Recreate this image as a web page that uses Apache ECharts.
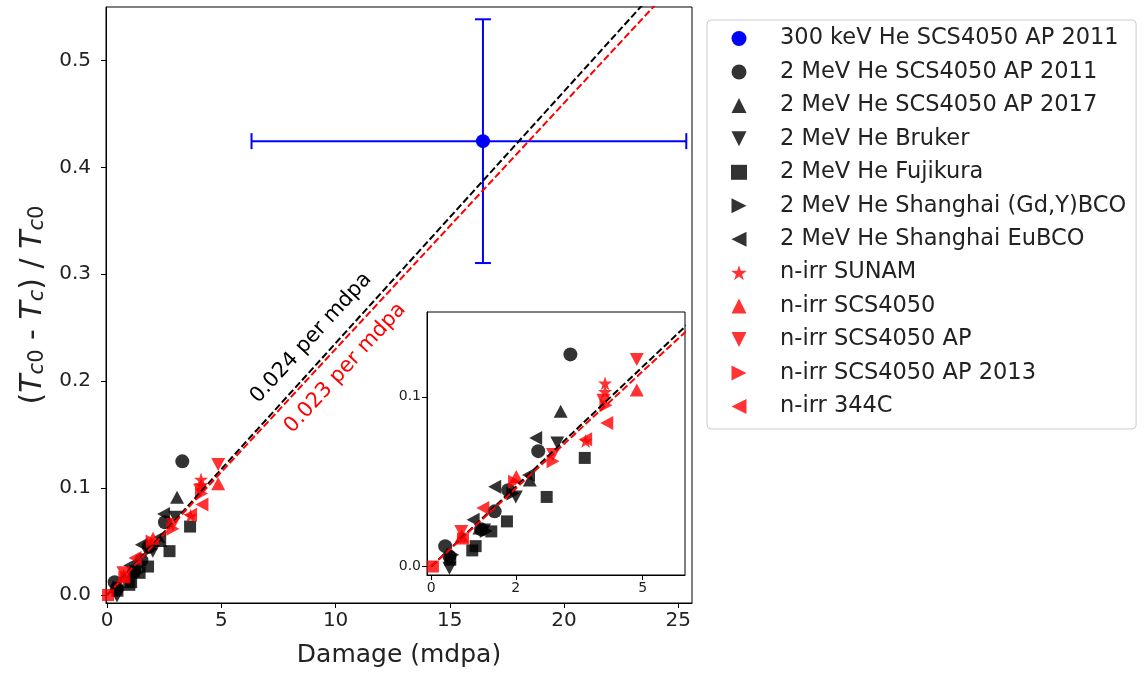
<!DOCTYPE html>
<html><head><meta charset="utf-8">
<script src="https://cdn.jsdelivr.net/npm/echarts@6/dist/echarts.min.js"></script>
<style>html,body{margin:0;padding:0;background:#fff}#c{width:1146px;height:674px}</style>
</head><body><div id="c"></div>
<script>
// ---------- data ----------
const he300keV      = [[16.45, 0.4245]];
const he300keVErrX  = [[6.32, 25.35]];   // [low, high]
const he300keVErrY  = [[0.3105, 0.5385]]; // [low, high]
const he2011   = [[0.33,0.012],[0.43,0.006],[1.18,0.022],[1.5,0.0325],[1.82,0.045],[2.53,0.068],[3.29,0.125]];
const he2017   = [[1.14,0.0227],[2.33,0.051],[3.06,0.0915]];
const heBruker = [[0.43,-0.001],[1.25,0.0215],[2.0,0.041],[2.98,0.0728]];
const heFujikura = [[0.45,0.004],[0.97,0.0095],[1.05,0.012],[1.42,0.0207],[1.79,0.0266],[2.73,0.041],[3.63,0.064]];
const heGdYBCO = [[0.51,0.0069],[1.3,0.021],[1.93,0.043]];
const heEuBCO  = [[0.99,0.0276],[1.5,0.047],[2.3,0.054],[2.47,0.0758]];
const nSUNAM   = [[3.65,0.074],[4.11,0.103],[4.11,0.108]];
const nSCS4050 = [[0.72,0.018],[2.01,0.053],[4.86,0.104]];
const nAP      = [[0.71,0.0207],[2.88,0.066],[4.07,0.098],[4.86,0.122]];
const nAP2013  = [[1.97,0.05],[2.88,0.062],[4.13,0.095]];
const n344C    = [[1.22,0.0345],[3.65,0.075],[4.15,0.0846]];
const nRef     = [[0.04,0.0],[0.75,0.0165]];
const fitHe    = [[0,0],[25.6,0.603]];   // 0.024 per mdpa
const fitN     = [[0,0],[25.6,0.589]];   // 0.023 per mdpa
const labelHe  = [8.93, 0.2404];
const labelN   = [10.42, 0.2123];
const xTicksMain  = [0,5,10,15,20,25];
const yTicksMain  = [0,0.1,0.2,0.3,0.4,0.5];
const xTicksInset = [0,2,5];
const yTicksInset = [0,0.1];
const names = ['300 keV He SCS4050 AP 2011','2 MeV He SCS4050 AP 2011','2 MeV He SCS4050 AP 2017','2 MeV He Bruker','2 MeV He Fujikura','2 MeV He Shanghai (Gd,Y)BCO','2 MeV He Shanghai EuBCO','n-irr SUNAM','n-irr SCS4050','n-irr SCS4050 AP','n-irr SCS4050 AP 2013','n-irr 344C'];

// ---------- styling ----------
const FONT = 'DejaVu Sans';
const STAR = 'path://M50,0 L61.2,34.5 L97.6,34.5 L68.2,55.9 L79.4,90.5 L50,69.1 L20.6,90.5 L31.8,55.9 L2.4,34.5 L38.8,34.5 Z';
const shapes = {
  circle:{symbol:'circle',size:14},
  up:{symbol:'path://M50,0 L100,100 L0,100 Z',size:[14,13]},
  down:{symbol:'path://M0,0 L100,0 L50,100 Z',size:[14,13]},
  square:{symbol:'rect',size:12},
  right:{symbol:'path://M0,0 L100,50 L0,100 Z',size:[13,14]},
  left:{symbol:'path://M100,0 L0,50 L100,100 Z',size:[13,14]},
  star:{symbol:STAR,size:14}
};
const groups = [
  [names[1], he2011,'circle','#000'],
  [names[2], he2017,'up','#000'],
  [names[3], heBruker,'down','#000'],
  [names[4], heFujikura,'square','#000'],
  [names[5], heGdYBCO,'right','#000'],
  [names[6], heEuBCO,'left','#000'],
  [names[7], nSUNAM,'star','#ff0000'],
  [names[8], nSCS4050,'up','#ff0000'],
  [names[9], nAP,'down','#ff0000'],
  [names[10], nAP2013,'right','#ff0000'],
  [names[11], n344C,'left','#ff0000'],
  ['n-irr ref', nRef,'square','#ff0000']
];

const series = [];
[0,1].forEach(g => {
  const zb = g === 0 ? 2 : 11;
  groups.forEach(([name,data,shape,color]) => {
    const s = shapes[shape];
    series.push({
      type:'scatter', name, data, xAxisIndex:g, yAxisIndex:g,
      symbol:s.symbol, symbolSize:s.size,
      itemStyle:{color, opacity:0.8}, z:zb, silent:true
    });
  });
  series.push({type:'line', name:'fitHe', data:fitHe, xAxisIndex:g, yAxisIndex:g, showSymbol:false, symbol:'none',
    lineStyle:{color:'#000', width:2, type:[7,3]}, z:zb+2, clip:true, silent:true});
  series.push({type:'line', name:'fitN', data:fitN, xAxisIndex:g, yAxisIndex:g, showSymbol:false, symbol:'none',
    lineStyle:{color:'#ff0000', width:2, type:[7,3]}, z:zb+2, clip:true, silent:true});
});
series.push({
  type:'scatter', name:names[0], data:he300keV, xAxisIndex:0, yAxisIndex:0,
  symbol:'circle', symbolSize:14, itemStyle:{color:'#0000ff', opacity:1}, z:5, silent:true
});
series.push({
  type:'custom', name:'err', xAxisIndex:0, yAxisIndex:0, z:3, silent:true,
  data: he300keV.map((p,i)=>[p[0],p[1],he300keVErrX[i][0],he300keVErrX[i][1],he300keVErrY[i][0],he300keVErrY[i][1]]),
  renderItem:(params, api) => {
    const l = api.coord([api.value(2), api.value(1)]);
    const r = api.coord([api.value(3), api.value(1)]);
    const b = api.coord([api.value(0), api.value(4)]);
    const t = api.coord([api.value(0), api.value(5)]);
    const c = 8, st = {stroke:'#0000ff', lineWidth:2};
    return {type:'group', children:[
      {type:'line', shape:{x1:l[0],y1:l[1],x2:r[0],y2:r[1]}, style:st},
      {type:'line', shape:{x1:b[0],y1:b[1],x2:t[0],y2:t[1]}, style:st},
      {type:'line', shape:{x1:l[0],y1:l[1]-c,x2:l[0],y2:l[1]+c}, style:st},
      {type:'line', shape:{x1:r[0],y1:r[1]-c,x2:r[0],y2:r[1]+c}, style:st},
      {type:'line', shape:{x1:b[0]-c,y1:b[1],x2:b[0]+c,y2:b[1]}, style:st},
      {type:'line', shape:{x1:t[0]-c,y1:t[1],x2:t[0]+c,y2:t[1]}, style:st}
    ]};
  }
});

const tickStyle = {show:true, length:5, inside:false, lineStyle:{color:'#000', width:1}};
const chart = echarts.init(document.getElementById('c'), null, {renderer:'canvas'});
chart.setOption({
  animation:false,
  backgroundColor:'#fff',
  textStyle:{fontFamily:FONT},
  grid:[
    {left:106, top:7, width:586, height:596, show:true, borderColor:'#000', borderWidth:1, backgroundColor:'transparent', z:0},
    {left:427, top:312, width:258, height:263, show:true, borderColor:'#000', borderWidth:1, backgroundColor:'#fff', z:10}
  ],
  xAxis:[
    {type:'value', gridIndex:0, min:-0.05, max:25.6, splitLine:{show:false},
     axisLine:{show:true, onZero:false, lineStyle:{color:'#000'}},
     axisTick:Object.assign({customValues:xTicksMain}, tickStyle),
     axisLabel:{customValues:xTicksMain, fontSize:20, color:'#222', margin:8, fontFamily:FONT},
     name:'Damage (mdpa)', nameLocation:'middle', nameGap:40,
     nameTextStyle:{fontSize:25, color:'#222', fontFamily:FONT}},
    {type:'value', gridIndex:1, min:-0.1, max:6.0, splitLine:{show:false}, z:10,
     axisLine:{show:true, onZero:false, lineStyle:{color:'#000'}},
     axisTick:Object.assign({customValues:xTicksInset}, tickStyle),
     axisLabel:{customValues:xTicksInset, fontSize:14, color:'#222', margin:6, fontFamily:FONT}}
  ],
  yAxis:[
    {type:'value', gridIndex:0, min:-0.0075, max:0.55, splitLine:{show:false},
     axisLine:{show:true, onZero:false, lineStyle:{color:'#000'}},
     axisTick:Object.assign({customValues:yTicksMain}, tickStyle),
     axisLabel:{customValues:yTicksMain, fontSize:20, color:'#222', margin:15, fontFamily:FONT,
       formatter:v=>v.toFixed(1)},
     name:'({t|T}{s|c}{z|0} - {t|T}{s|c}) / {t|T}{s|c}{z|0}', nameLocation:'middle', nameGap:56,
     nameTextStyle:{fontSize:30, color:'#222', fontFamily:FONT,
       rich:{t:{fontSize:30, fontStyle:'italic', color:'#222', fontFamily:FONT},
             s:{fontSize:21, fontStyle:'italic', color:'#222', fontFamily:FONT, verticalAlign:'bottom', lineHeight:21, padding:[16,0,0,0]},
             z:{fontSize:21, color:'#222', fontFamily:FONT, verticalAlign:'bottom', lineHeight:21, padding:[16,0,0,0]}}}},
    {type:'value', gridIndex:1, min:-0.005, max:0.15, splitLine:{show:false}, z:10,
     axisLine:{show:true, onZero:false, lineStyle:{color:'#000'}},
     axisTick:Object.assign({customValues:yTicksInset}, tickStyle),
     axisLabel:{customValues:yTicksInset, fontSize:14, color:'#222', margin:6, fontFamily:FONT,
       formatter:v=>v.toFixed(1)}}
  ],
  legend:{
    data:names, orient:'vertical', left:707, top:20,
    padding:[7,10,11,24], itemWidth:16, itemHeight:15, itemGap:10.45,
    backgroundColor:'#fff', borderColor:'#cccccc', borderWidth:1, borderRadius:4,
    selectedMode:false,
    textStyle:{fontFamily:FONT, fontSize:22.5, color:'#222', lineHeight:22, padding:[0,0,0,28]}
  },
  series
});

const p1 = chart.convertToPixel({xAxisIndex:0, yAxisIndex:0}, labelHe);
const p2 = chart.convertToPixel({xAxisIndex:0, yAxisIndex:0}, labelN);
const rot = 47.5 * Math.PI / 180;
chart.setOption({graphic:[
  {type:'text', x:p1[0], y:p1[1], rotation:rot, z:20,
   style:{text:'0.024 per mdpa', fill:'#000', fontSize:21, fontFamily:FONT, align:'center', verticalAlign:'middle'}},
  {type:'text', x:p2[0], y:p2[1], rotation:rot, z:20,
   style:{text:'0.023 per mdpa', fill:'#ff0000', fontSize:21, fontFamily:FONT, align:'center', verticalAlign:'middle'}}
]});
</script>
</body></html>
